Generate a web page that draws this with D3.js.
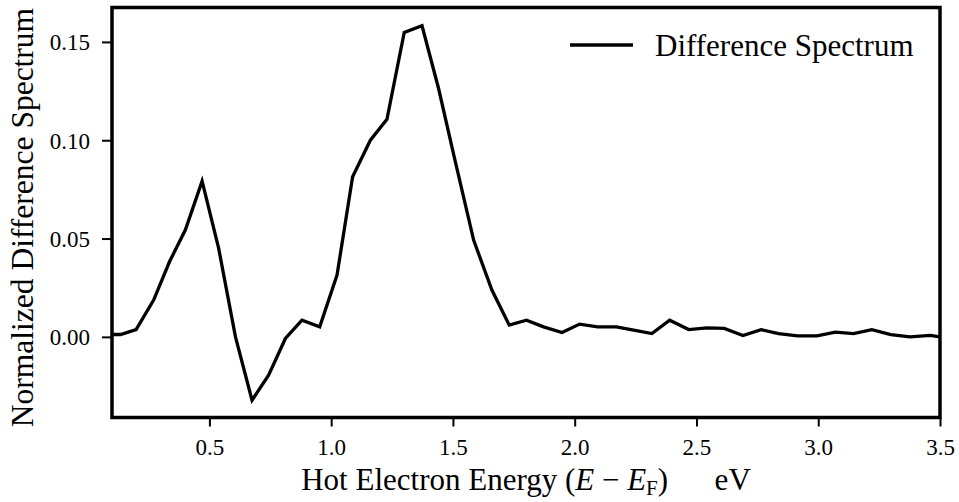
<!DOCTYPE html>
<html>
<head>
<meta charset="utf-8">
<script src="https://cdn.jsdelivr.net/npm/d3@7"></script>
<style>
  html, body { margin: 0; padding: 0; background: #fff; }
  svg { display: block; }
  text { font-family: "Liberation Serif", "DejaVu Serif", serif; fill: #000; }
</style>
</head>
<body>
<svg id="chart" width="959" height="502"></svg>
<script>
// ---- data ----
const energies = [0.1, 0.135, 0.199, 0.271, 0.336, 0.401, 0.470, 0.538, 0.607, 0.675,
  0.743, 0.812, 0.880, 0.953, 1.024, 1.088, 1.161, 1.229, 1.300, 1.373,
  1.441, 1.510, 1.585, 1.660, 1.731, 1.802, 1.872, 1.948, 2.020, 2.094,
  2.171, 2.242, 2.317, 2.390, 2.468, 2.543, 2.614, 2.691, 2.765, 2.837,
  2.915, 2.995, 3.070, 3.145, 3.220, 3.298, 3.377, 3.460, 3.5];
const diffSpectrum = [0.0012, 0.0012, 0.0037, 0.0187, 0.0382, 0.0543, 0.0792, 0.0450, 0.0000, -0.0322,
  -0.0195, -0.0008, 0.0085, 0.0051, 0.0314, 0.0814, 0.1000, 0.1106, 0.1548, 0.1582,
  0.1263, 0.0890, 0.0492, 0.0238, 0.0060, 0.0085, 0.0051, 0.0022, 0.0065, 0.0051,
  0.0051, 0.0034, 0.0017, 0.0085, 0.0037, 0.0046, 0.0043, 0.0007, 0.0037, 0.0017,
  0.0005, 0.0005, 0.0024, 0.0017, 0.0037, 0.0012, 0.0000, 0.0008, 0.0000];
const xTicks = [0.5, 1.0, 1.5, 2.0, 2.5, 3.0, 3.5];
const yTicks = [0.00, 0.05, 0.10, 0.15];
const xDomain = [0.1, 3.5];
const yDomain = [-0.041, 0.1675];
const seriesName = "Difference Spectrum";

// ---- layout ----
const L = 112, R = 940, T = 7.5, B = 417.5;
const svg = d3.select("#chart");
const x = d3.scaleLinear().domain(xDomain).range([L, R]);
const y = d3.scaleLinear().domain(yDomain).range([B, T]);

svg.append("defs").append("clipPath").attr("id", "clip")
  .append("rect").attr("x", L).attr("y", T).attr("width", R - L).attr("height", B - T);

// data line
const line = d3.line().x((d, i) => x(energies[i])).y(d => y(d));
svg.append("path")
  .datum(diffSpectrum)
  .attr("clip-path", "url(#clip)")
  .attr("d", line)
  .attr("fill", "none")
  .attr("stroke", "#000")
  .attr("stroke-width", 3.3)
  .attr("stroke-linejoin", "miter");

// axes
const xAxis = svg.append("g").attr("transform", `translate(0,${B})`)
  .call(d3.axisBottom(x).tickValues(xTicks).tickFormat(d3.format(".1f")).tickSize(9).tickSizeOuter(0));
xAxis.select(".domain").remove();
xAxis.selectAll(".tick line").attr("stroke", "#000").attr("stroke-width", 2);
xAxis.selectAll(".tick text").attr("y", 37).attr("dy", 0)
  .style("font-size", "23px").style("font-family", "Liberation Serif, serif");

const yAxis = svg.append("g").attr("transform", `translate(${L},0)`)
  .call(d3.axisLeft(y).tickValues(yTicks).tickFormat(d3.format(".2f")).tickSize(10).tickSizeOuter(0));
yAxis.select(".domain").remove();
yAxis.selectAll(".tick line").attr("stroke", "#000").attr("stroke-width", 2);
yAxis.selectAll(".tick text").attr("x", -22).attr("dy", "0.35em")
  .style("font-size", "23px").style("font-family", "Liberation Serif, serif");

// frame
svg.append("rect").attr("x", L).attr("y", T).attr("width", R - L).attr("height", B - T)
  .attr("fill", "none").attr("stroke", "#000").attr("stroke-width", 3.5);

// x label
const xl = svg.append("text").attr("x", (L + R) / 2).attr("y", 490)
  .attr("text-anchor", "middle").style("font-size", "31px").attr("xml:space", "preserve");
xl.append("tspan").text("Hot Electron Energy (");
xl.append("tspan").style("font-style", "italic").text("E");
xl.append("tspan").text(" \u2212 ");
xl.append("tspan").style("font-style", "italic").text("E");
xl.append("tspan").attr("dy", 5).style("font-size", "21px").text("F");
xl.append("tspan").attr("dy", -5).text(")\u2003\u2002eV");

// y label
svg.append("text")
  .attr("transform", `translate(33,${(T + B) / 2 + 5}) rotate(-90)`)
  .attr("text-anchor", "middle").style("font-size", "31.5px")
  .text("Normalized Difference Spectrum");

// legend
svg.append("line").attr("x1", 570).attr("x2", 633).attr("y1", 45).attr("y2", 45)
  .attr("stroke", "#000").attr("stroke-width", 3.5);
svg.append("text").attr("x", 655).attr("y", 56).style("font-size", "31px").text(seriesName);
</script>
</body>
</html>
